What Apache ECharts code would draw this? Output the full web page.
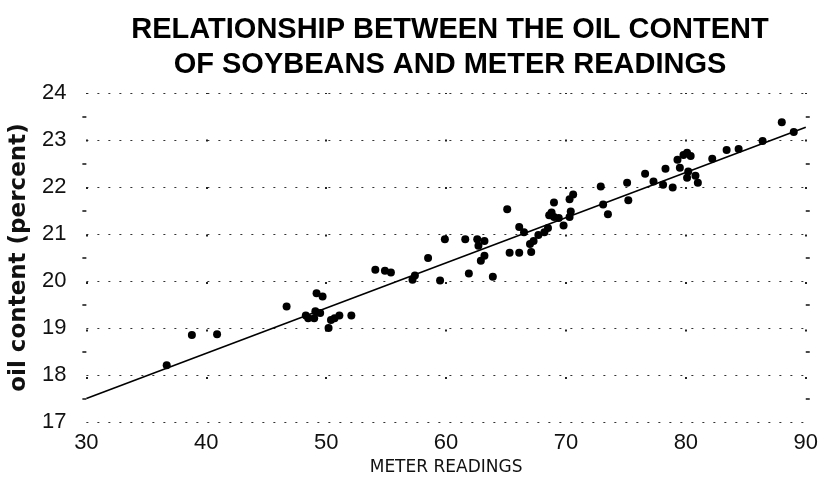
<!DOCTYPE html>
<html>
<head>
<meta charset="utf-8">
<script src="https://cdn.jsdelivr.net/npm/echarts@6/dist/echarts.min.js"></script>
<style>
html,body{margin:0;padding:0;background:#fff;}
#chart{width:821px;height:481px;}
</style>
</head>
<body>
<div id="chart"></div>
<script>
// Data
const meterReadings = [36.7,38.8,40.9,46.7,48.3,48.5,49.0,49.1,49.2,49.5,49.7,50.2,50.4,50.7,51.1,52.1,54.1,54.9,55.4,57.2,57.4,58.5,59.5,59.9,61.6,61.9,62.6,62.7,63.2,63.2,62.9,63.9,65.1,65.3,66.1,66.1,66.5,67.0,67.3,67.1,67.7,68.2,68.5,68.6,69.0,69.4,68.8,69.0,69.8,70.3,70.4,70.3,70.6,72.9,73.1,73.5,75.1,75.2,76.6,77.3,78.1,78.3,78.9,79.3,79.5,79.8,80.1,80.4,80.2,80.1,80.8,81.0,82.2,83.4,84.4,86.4,88.0,89.0];
const oilContent = [18.21,18.85,18.87,19.46,19.27,19.21,19.21,19.36,19.74,19.32,19.67,19.0,19.17,19.21,19.27,19.27,20.24,20.22,20.18,20.03,20.12,20.49,20.01,20.89,20.89,20.16,20.89,20.75,20.85,20.54,20.43,20.09,21.53,20.6,20.6,21.15,21.04,20.79,20.85,20.62,20.98,21.04,21.13,21.4,21.36,21.34,21.46,21.67,21.18,21.36,21.48,21.74,21.84,22.01,21.63,21.42,22.09,21.72,22.28,22.12,22.05,22.39,21.99,22.58,22.41,22.68,22.73,22.66,22.33,22.2,22.24,22.09,22.6,22.79,22.81,22.98,23.38,23.17];
const fitX = [30, 90];
const fitY = [17.5, 23.27];
const xTicks = [30, 40, 50, 60, 70, 80, 90];
const yTicks = [17, 18, 19, 20, 21, 22, 23, 24];

const titleText = 'RELATIONSHIP BETWEEN THE OIL CONTENT\nOF SOYBEANS AND METER READINGS';
const xName = 'METER READINGS';
const yName = 'oil content (percent)';

const chart = echarts.init(document.getElementById('chart'), null, {renderer: 'canvas'});
const scatterData = meterReadings.map((x, i) => [x, oilContent[i]]);
const fitData = fitX.map((x, i) => [x, fitY[i]]);

const labelFont = {fontFamily: 'Liberation Sans', fontSize: 22, color: '#111'};

chart.setOption({
  backgroundColor: '#fff',
  animation: false,
  title: {
    text: titleText,
    left: 445,
    top: 7,
    textAlign: 'center',
    textStyle: {
      fontFamily: 'Liberation Sans',
      fontWeight: 'bold',
      fontSize: 29,
      lineHeight: 35,
      color: '#000'
    }
  },
  grid: {left: 82, right: 15, top: 93, bottom: 55.5, containLabel: false},
  xAxis: {
    type: 'value',
    min: xTicks[0],
    max: xTicks[xTicks.length - 1],
    interval: 10,
    name: xName,
    nameLocation: 'middle',
    nameGap: 33,
    nameTextStyle: {fontFamily: 'DejaVu Sans', fontSize: 17, color: '#111'},
    axisLine: {show: false},
    axisTick: {show: false},
    axisLabel: Object.assign({margin: 10}, labelFont),
    splitLine: {
      show: true,
      lineStyle: {color: '#222', width: 2, type: [2, 45.5], dashOffset: 1}
    }
  },
  yAxis: [{
    type: 'value',
    min: yTicks[0],
    max: yTicks[yTicks.length - 1],
    interval: 1,
    name: yName,
    nameLocation: 'middle',
    nameGap: 48,
    nameTextStyle: {fontFamily: 'DejaVu Sans', fontWeight: 'bold', fontSize: 23, color: '#111'},
    axisLine: {show: false},
    axisTick: {show: false},
    minorTick: {show: true, splitNumber: 2, length: 4, lineStyle: {color: '#111', width: 1.5}},
    axisLabel: Object.assign({margin: 20}, labelFont),
    splitLine: {
      show: true,
      lineStyle: {color: '#333', width: 1, type: [2, 9]}
    }
  }, {
    type: 'value',
    position: 'right',
    min: yTicks[0],
    max: yTicks[yTicks.length - 1],
    interval: 1,
    axisLine: {show: false},
    axisTick: {show: false},
    minorTick: {show: true, splitNumber: 2, length: 4, lineStyle: {color: '#111', width: 1.5}},
    axisLabel: {show: false},
    splitLine: {show: false}
  }],
  series: [{
    type: 'line',
    data: fitData,
    symbol: 'none',
    lineStyle: {color: '#000', width: 1.6},
    z: 3
  }, {
    type: 'scatter',
    data: scatterData,
    symbol: 'circle',
    symbolSize: 8,
    itemStyle: {color: '#000', opacity: 1},
    z: 4
  }]
});
</script>
</body>
</html>
